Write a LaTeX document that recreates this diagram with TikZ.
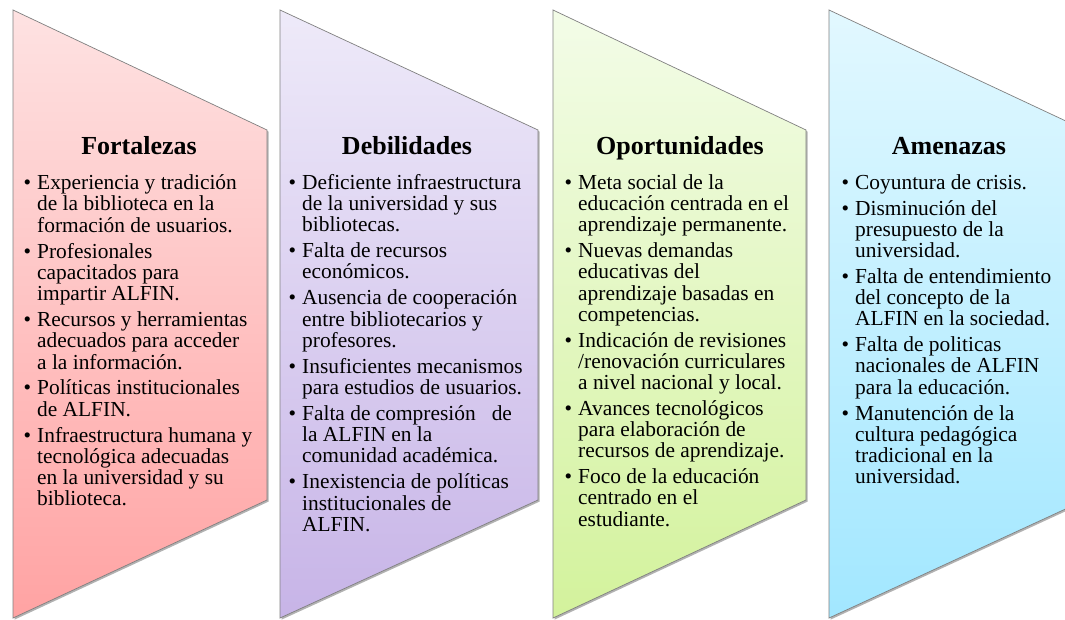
\documentclass[tikz,border=0pt]{standalone}
\usepackage{fontspec}
\setmainfont{Liberation Serif}
\usetikzlibrary{shadows}
\tikzset{
  chev/.style={draw=black!50, line width=0.7pt, line join=miter,
    drop shadow={shadow xshift=1.6pt, shadow yshift=-1.6pt, opacity=0.3, fill=black}},
  ttl/.style={anchor=base, inner sep=0pt, font=\fontsize{26}{26}\selectfont\bfseries},
  body/.style={anchor=base west, inner sep=0pt, font=\fontsize{21.4}{21.2}\selectfont}
}
\newcommand{\bl}{\textbullet}
\newenvironment{blist}{\renewcommand{\arraystretch}{1}\begin{tabular}[t]{@{}l@{\hspace{6pt}}l@{}}}{\end{tabular}}
\definecolor{rA}{HTML}{FEE2E2}\definecolor{rB}{HTML}{FFA3A3}
\definecolor{pA}{HTML}{EEEAF9}\definecolor{pB}{HTML}{C7B4E7}
\definecolor{gA}{HTML}{F3FCE8}\definecolor{gB}{HTML}{D3F29C}
\definecolor{bA}{HTML}{E2F8FF}\definecolor{bB}{HTML}{A2E7FF}
\begin{document}
\begin{tikzpicture}[x=1pt,y=-1pt]
\useasboundingbox (0,0) rectangle (1065,620);
\fill[white] (0,0) rectangle (1065,620);
% shapes
\path[chev, top color=rA, bottom color=rB] (13,10) -- (267,130) -- (267,500) -- (13,618) -- cycle;
\path[chev, top color=pA, bottom color=pB] (280,10) -- (538,130) -- (538,500) -- (280,618) -- cycle;
\path[chev, top color=gA, bottom color=gB] (553,10) -- (806,130) -- (806,500) -- (553,618) -- cycle;
\path[chev, top color=bA, bottom color=bB] (829,10) -- (1085,130) -- (1085,500) -- (829,618) -- cycle;
% titles
\node[ttl] (t1) at (139,155) {Fortalezas};
\node[ttl] (t2) at (407,155) {Debilidades};
\node[ttl] (t3) at (680,155) {Oportunidades};
\node[ttl] (t4) at (949,155) {Amenazas};
% bodies
\node[body] (b1) at (23.5,189.5) {\begin{blist}
\bl & Experiencia y tradición\\ & de la biblioteca en la\\ & formación de usuarios.\\[4.6pt]
\bl & Profesionales\\ & capacitados para\\ & impartir ALFIN.\\[4.6pt]
\bl & Recursos y herramientas\\ & adecuados para acceder\\ & a la información.\\[4.6pt]
\bl & Políticas institucionales\\ & de ALFIN.\\[4.6pt]
\bl & Infraestructura humana y\\ & tecnológica adecuadas\\ & en la universidad y su\\ & biblioteca.
\end{blist}};
\node[body] (b2) at (288.5,189.5) {\begin{blist}
\bl & Deficiente infraestructura\\ & de la universidad y sus\\ & bibliotecas.\\[4.6pt]
\bl & Falta de recursos\\ & económicos.\\[4.6pt]
\bl & Ausencia de cooperación\\ & entre bibliotecarios y\\ & profesores.\\[4.6pt]
\bl & Insuficientes mecanismos\\ & para estudios de usuarios.\\[4.6pt]
\bl & Falta de compresión\hspace{0.75em}de\\ & la ALFIN en la\\ & comunidad académica.\\[4.6pt]
\bl & Inexistencia de políticas\\ & institucionales de\\ & ALFIN.
\end{blist}};
\node[body] (b3) at (564.5,189.5) {\begin{blist}
\bl & Meta social de la\\ & educación centrada en el\\ & aprendizaje permanente.\\[4.6pt]
\bl & Nuevas demandas\\ & educativas del\\ & aprendizaje basadas en\\ & competencias.\\[4.6pt]
\bl & Indicación de revisiones\\ & /renovación curriculares\\ & a nivel nacional y local.\\[4.6pt]
\bl & Avances tecnológicos\\ & para elaboración de\\ & recursos de aprendizaje.\\[4.6pt]
\bl & Foco de la educación\\ & centrado en el\\ & estudiante.
\end{blist}};
\node[body] (b4) at (841.5,189.5) {\begin{blist}
\bl & Coyuntura de crisis.\\[4.6pt]
\bl & Disminución del\\ & presupuesto de la\\ & universidad.\\[4.6pt]
\bl & Falta de entendimiento\\ & del concepto de la\\ & ALFIN en la sociedad.\\[4.6pt]
\bl & Falta de politicas\\ & nacionales de ALFIN\\ & para la educación.\\[4.6pt]
\bl & Manutención de la\\ & cultura pedagógica\\ & tradicional en la\\ & universidad.
\end{blist}};
\end{tikzpicture}
\end{document}
